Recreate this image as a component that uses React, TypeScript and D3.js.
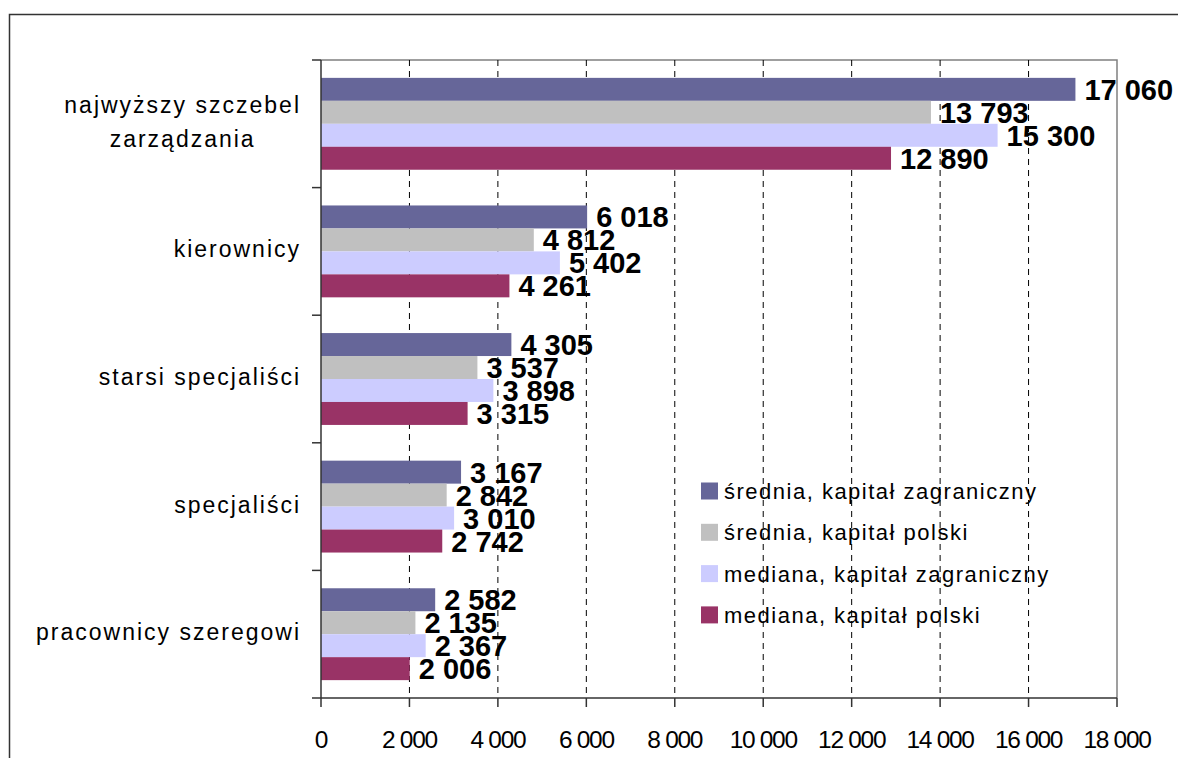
import React, { useEffect, useRef } from 'react';
import * as d3 from 'd3';

const categories = ['najwyższy szczebel\nzarządzania', 'kierownicy', 'starsi specjaliści', 'specjaliści', 'pracownicy szeregowi'];
const seriesNames = ['średnia, kapitał zagraniczny', 'średnia, kapitał polski', 'mediana, kapitał zagraniczny', 'mediana, kapitał polski'];
const seriesColors = ['#666699', '#C0C0C0', '#CCCCFF', '#993366'];
const sredniaZagraniczny = [17060, 6018, 4305, 3167, 2582];
const sredniaPolski = [13793, 4812, 3537, 2842, 2135];
const medianaZagraniczny = [15300, 5402, 3898, 3010, 2367];
const medianaPolski = [12890, 4261, 3315, 2742, 2006];
const xTicks = [0, 2000, 4000, 6000, 8000, 10000, 12000, 14000, 16000, 18000];

const config = {
    width: 1178,
    height: 758,
    plot: { left: 321, top: 60, right: 1117, bottom: 698 },
    font: '"Liberation Sans", Arial, sans-serif'
};

const fmt = d3.formatLocale({ decimal: ',', thousands: ' ', grouping: [3], currency: ['', ''] }).format(',d');

export default function App() {
    const ref = useRef<SVGSVGElement>(null);

    useEffect(() => {
        const svg = d3.select(ref.current);
        svg.selectAll('*').remove();
        const { left, top, right, bottom } = config.plot;
        const series = [sredniaZagraniczny, sredniaPolski, medianaZagraniczny, medianaPolski];

        const x = d3.scaleLinear().domain([0, 18000]).range([left, right]);
        const y = d3.scaleBand<string>().domain(categories).range([top, bottom]).paddingInner(0.28).paddingOuter(0.14);
        const yInner = d3.scaleBand<number>().domain(d3.range(series.length)).range([0, y.bandwidth()]);
        const step = (bottom - top) / categories.length;

        // outer frame
        svg.append('rect').attr('x', 9.5).attr('y', 14.5).attr('width', 1200).attr('height', 800)
            .attr('fill', 'none').attr('stroke', '#333').attr('stroke-width', 1.5);

        // plot border (top/right)
        svg.append('path').attr('d', `M${left},${top}H${right}V${bottom}`)
            .attr('fill', 'none').attr('stroke', '#808080').attr('stroke-width', 1.5);

        // dashed grid
        svg.append('g').selectAll('line').data(xTicks.slice(1, -1)).join('line')
            .attr('x1', d => x(d)).attr('x2', d => x(d)).attr('y1', top).attr('y2', bottom)
            .attr('stroke', '#000').attr('stroke-dasharray', '6,5').attr('stroke-width', 1);

        // bars
        const groups = svg.append('g').selectAll('g').data(categories).join('g')
            .attr('transform', c => `translate(0,${y(c)})`);
        groups.each(function (c, ci) {
            const g = d3.select(this);
            series.forEach((vals, si) => {
                g.append('rect').attr('x', x(0)).attr('y', yInner(si)!)
                    .attr('width', x(vals[ci]) - x(0)).attr('height', yInner.bandwidth())
                    .attr('fill', seriesColors[si]);
            });
        });

        // axes
        const axisG = svg.append('g').attr('stroke', '#333').attr('stroke-width', 1.5);
        axisG.append('line').attr('x1', left).attr('x2', left).attr('y1', top).attr('y2', bottom);
        axisG.append('line').attr('x1', left - 9).attr('x2', right).attr('y1', bottom).attr('y2', bottom);
        axisG.selectAll('.yt').data(d3.range(categories.length)).join('line').attr('class', 'yt')
            .attr('x1', left - 9).attr('x2', left).attr('y1', i => top + i * step).attr('y2', i => top + i * step);
        axisG.selectAll('.xt').data(xTicks).join('line').attr('class', 'xt')
            .attr('x1', d => x(d)).attr('x2', d => x(d)).attr('y1', bottom).attr('y2', bottom + 9);

        svg.append('g').selectAll('text').data(xTicks).join('text')
            .attr('x', d => x(d)).attr('y', 748).attr('text-anchor', 'middle')
            .attr('font-family', config.font).attr('font-size', 24.5).attr('letter-spacing', -1.3)
            .attr('fill', '#000').text(d => fmt(d));

        // value labels
        const labG = svg.append('g').attr('font-family', config.font).attr('font-size', 29)
            .attr('font-weight', 'bold').attr('fill', '#000');
        categories.forEach((c, ci) => {
            series.forEach((vals, si) => {
                labG.append('text').attr('x', x(vals[ci]) + 9)
                    .attr('y', y(c)! + yInner(si)! + yInner.bandwidth() / 2 + 10.5)
                    .text(fmt(vals[ci]));
            });
        });

        // category labels
        const catG = svg.append('g').attr('font-family', config.font).attr('font-size', 23)
            .attr('letter-spacing', 2).attr('fill', '#000');
        categories.forEach(c => {
            const lines = c.split('\n');
            const cy = y(c)! + y.bandwidth() / 2;
            const t = catG.append('text');
            const first = cy + 8 - ((lines.length - 1) * 34) / 2 - 2;
            lines.forEach((ln, li) => {
                t.append('tspan').attr('y', first + li * 34).text(ln);
            });
            const widths = t.selectAll<SVGTSpanElement, unknown>('tspan').nodes().map(n => n.getComputedTextLength());
            const maxW = d3.max(widths) || 0;
            t.attr('text-anchor', 'middle');
            t.selectAll('tspan').attr('x', 301 - maxW / 2);
        });

        // legend
        const leg = svg.append('g').attr('font-family', config.font).attr('font-size', 22).attr('letter-spacing', 1.5);
        seriesNames.forEach((name, i) => {
            const cy = 491 + i * 41.3;
            leg.append('rect').attr('x', 701).attr('y', cy - 8.5).attr('width', 17).attr('height', 17).attr('fill', seriesColors[i]);
            leg.append('text').attr('x', 724).attr('y', cy + 8).attr('fill', '#000').text(name);
        });
    }, []);

    return (
        <svg ref={ref} width={config.width} height={config.height}
             style={{ position: 'absolute', left: 0, top: 0, background: '#fff' }} />
    );
}
